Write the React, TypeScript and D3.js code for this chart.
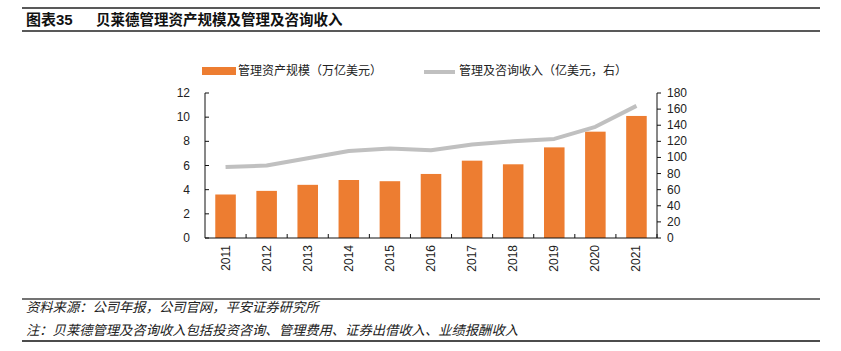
import React from "react";
import * as d3 from "d3";

const years = ["2011","2012","2013","2014","2015","2016","2017","2018","2019","2020","2021"];
const aum = [3.6, 3.9, 4.4, 4.8, 4.7, 5.3, 6.4, 6.1, 7.5, 8.8, 10.1];
const revenue = [88, 90, 99, 108, 111, 109, 116, 120, 123, 138, 164];
const leftTicks = [0, 2, 4, 6, 8, 10, 12];
const rightTicks = [0, 20, 40, 60, 80, 100, 120, 140, 160, 180];

const W = 841, H = 351;
const L = 205, R = 657, T = 93, B = 238;
const font = "'Liberation Sans', 'Noto Sans CJK SC', sans-serif";
const cjk = "'Noto Sans CJK SC', 'Liberation Sans', sans-serif";

export default function App() {
  const x = d3.scaleBand<string>().domain(years).range([L, R]).paddingInner(0.5).paddingOuter(0.25);
  const yL = d3.scaleLinear().domain([0, 12]).range([B, T]);
  const yR = d3.scaleLinear().domain([0, 180]).range([B, T]);
  const line = d3.line<number>()
    .x((_, i) => (x(years[i]) as number) + x.bandwidth() / 2)
    .y((d) => yR(d));
  const step = (R - L) / years.length;

  return (
    <svg width={W} height={H} style={{ position: "absolute", left: 0, top: 0, background: "#fff" }}>
      {/* title */}
      <line x1={22} x2={820} y1={8} y2={8} stroke="#222" strokeWidth={1.5} />
      <text x={26} y={25} fontFamily={font} fontWeight="bold" fontSize={15} fill="#111">
        <tspan fontFamily={cjk}>图表</tspan>35
      </text>
      <text x={96} y={25} fontFamily={cjk} fontWeight="bold" fontSize={14.5} fill="#111">贝莱德管理资产规模及管理及咨询收入</text>
      <line x1={22} x2={820} y1={31} y2={31} stroke="#222" strokeWidth={1.5} />

      {/* legend */}
      <rect x={202} y={67} width={34} height={8} fill="#ED7D31" />
      <text x={238} y={75} fontFamily={cjk} fontSize={12} fill="#222">管理资产规模（万亿美元）</text>
      <line x1={424} x2={455} y1={72} y2={72} stroke="#C0C0C0" strokeWidth={4} />
      <text x={459} y={75} fontFamily={cjk} fontSize={12} fill="#222">管理及咨询收入（亿美元，右）</text>

      {/* bars */}
      {aum.map((v, i) => (
        <rect key={years[i]} x={x(years[i])} y={yL(v)} width={x.bandwidth()} height={B - yL(v)} fill="#ED7D31" />
      ))}

      {/* line */}
      <path d={line(revenue) || ""} fill="none" stroke="#C0C0C0" strokeWidth={4} strokeLinejoin="round" />

      {/* left axis */}
      <line x1={L} x2={L} y1={T} y2={B} stroke="#111" strokeWidth={1} />
      {leftTicks.map((t) => (
        <g key={"l" + t}>
          <line x1={L} x2={L + 4} y1={yL(t)} y2={yL(t)} stroke="#111" />
          <text x={190} y={yL(t) + 4} textAnchor="end" fontFamily={font} fontSize={12} fill="#222">{t}</text>
        </g>
      ))}
      {/* right axis */}
      <line x1={R} x2={R} y1={T} y2={B} stroke="#111" strokeWidth={1} />
      {rightTicks.map((t) => (
        <g key={"r" + t}>
          <line x1={R} x2={R + 4} y1={yR(t)} y2={yR(t)} stroke="#111" />
          <text x={667} y={yR(t) + 4} textAnchor="start" fontFamily={font} fontSize={12} fill="#222">{t}</text>
        </g>
      ))}
      {/* x axis */}
      <line x1={L} x2={R} y1={B} y2={B} stroke="#111" strokeWidth={1} />
      {years.map((yv, i) => (
        <g key={"x" + yv}>
          <line x1={L + step * (i + 1)} x2={L + step * (i + 1)} y1={B} y2={B - 4} stroke="#111" />
          <text
            transform={`translate(${(x(yv) as number) + x.bandwidth() / 2 + 4},245) rotate(-90)`}
            textAnchor="end" fontFamily={font} fontSize={12} fill="#222">{yv}</text>
        </g>
      ))}

      {/* footer */}
      <line x1={22} x2={820} y1={299} y2={299} stroke="#444" strokeWidth={1.5} />
      <text x={26} y={312} fontFamily={cjk} fontStyle="italic" fontSize={13.3} fill="#222">资料来源：公司年报，公司官网，平安证券研究所</text>
      <text x={26} y={335} fontFamily={cjk} fontStyle="italic" fontSize={13.3} fill="#222">注：贝莱德管理及咨询收入包括投资咨询、管理费用、证券出借收入、业绩报酬收入</text>
      <line x1={22} x2={820} y1={341} y2={341} stroke="#111" strokeWidth={1.5} />
    </svg>
  );
}
